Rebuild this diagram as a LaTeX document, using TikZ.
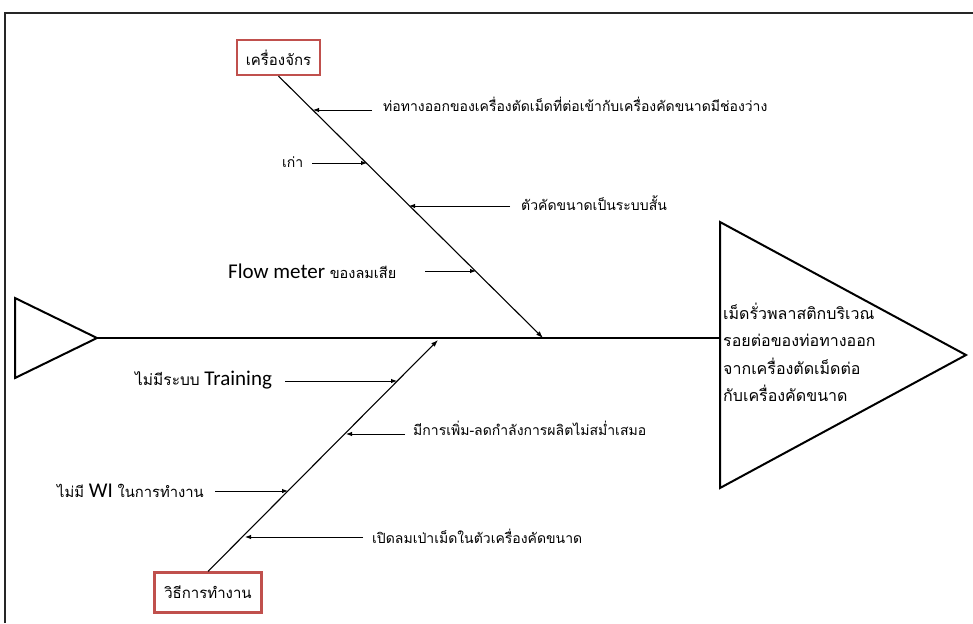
\documentclass[tikz,border=0pt]{standalone}
\usepackage{fontspec}
\setmainfont{Carlito}
\newfontfamily\thai[Script=Thai]{Loma}
\usetikzlibrary{arrows.meta}
\definecolor{boxred}{RGB}{192,80,77}
% Latin words inside the cause labels
\newcommand{\latinpart}[1]{{\fontspec{Carlito}\fontsize{21}{24}\selectfont #1}}
% Thai words inside the mixed labels
\newcommand{\thaipart}[2]{{\thai\fontsize{#1}{16}\selectfont #2}}

\begin{document}
\begin{tikzpicture}[x=1pt,y=-1pt,
  frameline/.style={line width=2pt, draw=black!85},
  heavy/.style={line width=2pt},
  bone/.style={line width=1.1pt, -{Latex[length=7pt,width=5pt]}},
  causearrow/.style={line width=0.9pt, -{Latex[length=6pt,width=4.5pt]}},
  lbl/.style={inner sep=0pt, anchor=west, font=\thai\fontsize{14}{16}\selectfont},
  catbox/.style={draw=boxred, line width=2.2pt, fill=white, inner sep=0pt,
                 font=\thai\fontsize{15}{17}\selectfont}]
\useasboundingbox (0,0) rectangle (973,623);

% outer frame (top and left edges)
\draw[frameline] (5,623) -- (5,13) -- (973,13);

% tail triangle, spine and head triangle
\coordinate (tailA) at (15,298);
\coordinate (tailB) at (15,378);
\coordinate (tailTip) at (97,338);
\coordinate (headTop) at (720,222);
\coordinate (headBot) at (720,488);
\coordinate (headTip) at (966,355);
\coordinate (headSpine) at (720,338);
\draw[heavy, line join=miter] (tailA) -- (tailB) -- (tailTip) -- cycle;
\draw[heavy] (tailTip) -- (headSpine);
\draw[heavy, line join=miter] (headTop) -- (headBot) -- (headTip) -- cycle;

\node[inner sep=0pt, anchor=north west, align=left,
      font=\thai\fontsize{16}{27.3}\selectfont] (effect) at (723,303)
  {เม็ดรั่วพลาสติกบริเวณ\\รอยต่อของท่อทางออก\\จากเครื่องตัดเม็ดต่อ\\กับเครื่องคัดขนาด};

% category boxes
\node[catbox, minimum width=83pt, minimum height=35pt] (machine) at (278.5,57.5) {เครื่องจักร};
\node[catbox, minimum width=107pt, minimum height=40pt] (method) at (208,592.5) {วิธีการทำงาน};

% main bones
\coordinate (machineEnd) at (543,338);
\coordinate (methodEnd) at (438,340);
\draw[bone] (machine.south) -- (machineEnd);
\draw[bone] (method.north) -- (methodEnd);

% causes on the machine bone
\node[lbl] (m1) at (383,104) {ท่อทางออกของเครื่องตัดเม็ดที่ต่อเข้ากับเครื่องคัดขนาดมีช่องว่าง};
\node[lbl] (m2) at (282,162) {เก่า};
\node[lbl] (m3) at (521,203) {ตัวคัดขนาดเป็นระบบสั้น};
\node[lbl] (m4) at (228,271) {\latinpart{Flow meter} \thaipart{14.5}{ของลมเสีย}};

\coordinate (m1s) at (372,110); \coordinate (m1e) at (313,110);
\coordinate (m2s) at (312,163); \coordinate (m2e) at (367,163);
\coordinate (m3s) at (510,206); \coordinate (m3e) at (409,206);
\coordinate (m4s) at (425,271); \coordinate (m4e) at (476,271);
\draw[causearrow] (m1s) -- (m1e);
\draw[causearrow] (m2s) -- (m2e);
\draw[causearrow] (m3s) -- (m3e);
\draw[causearrow] (m4s) -- (m4e);

% causes on the method bone
\node[lbl] (w1) at (135,380) {\thaipart{15.5}{ไม่มีระบบ} \latinpart{Training}};
\node[lbl] (w2) at (413,428) {มีการเพิ่ม-ลดกำลังการผลิตไม่สม่ำเสมอ};
\node[lbl] (w3) at (57,491) {\thaipart{14.8}{ไม่มี} \latinpart{WI} \thaipart{14.8}{ในการทำงาน}};
\node[lbl] (w4) at (372,536) {เปิดลมเป่าเม็ดในตัวเครื่องคัดขนาด};

\coordinate (w1s) at (285,381); \coordinate (w1e) at (397,381);
\coordinate (w2s) at (405,434); \coordinate (w2e) at (346,434);
\coordinate (w3s) at (215,491); \coordinate (w3e) at (288,491);
\coordinate (w4s) at (363,537); \coordinate (w4e) at (245,537);
\draw[causearrow] (w1s) -- (w1e);
\draw[causearrow] (w2s) -- (w2e);
\draw[causearrow] (w3s) -- (w3e);
\draw[causearrow] (w4s) -- (w4e);
\end{tikzpicture}
\end{document}
